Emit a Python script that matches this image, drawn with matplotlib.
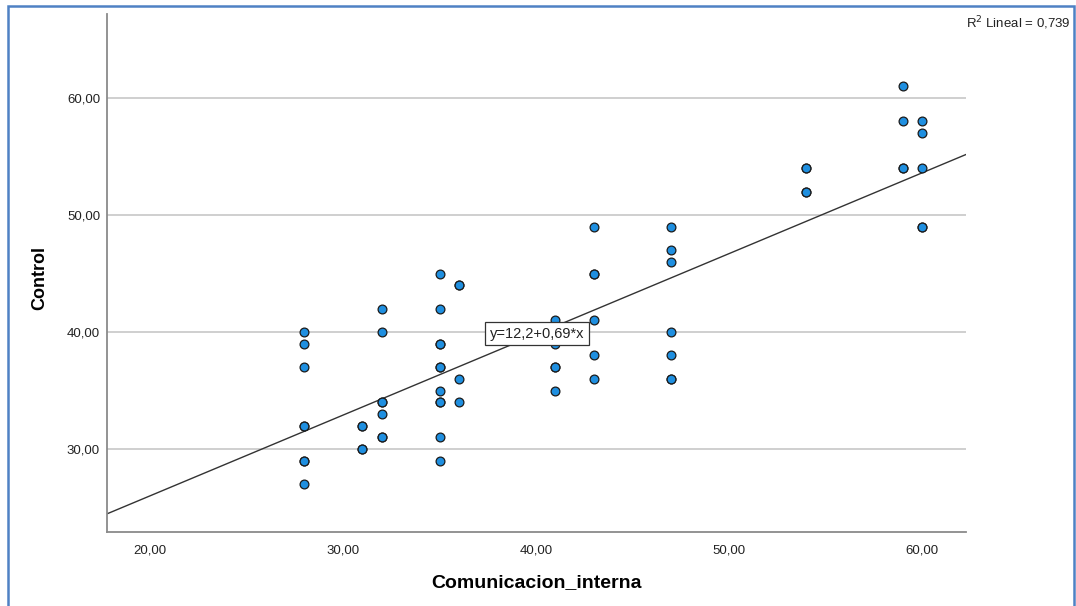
import matplotlib
matplotlib.use("Agg")
import matplotlib.pyplot as plt
import matplotlib.patches as mpatches
import numpy as np

plt.rcParams['font.family'] = ['Liberation Sans', 'DejaVu Sans']

# Data (x = Comunicacion_interna, y = Control)
comunicacion_interna = [28, 28, 28, 28, 28, 28, 28, 28,
                        31, 31, 31, 31,
                        32, 32, 32, 32, 32, 32, 32,
                        35, 35, 35, 35, 35, 35, 35, 35, 35, 35, 35,
                        36, 36, 36, 36,
                        41, 41, 41, 41, 41,
                        43, 43, 43, 43, 43, 43,
                        47, 47, 47, 47, 47, 47, 47,
                        54, 54, 54, 54,
                        59, 59, 59, 59,
                        60, 60, 60, 60, 60]
control = [40, 39, 37, 32, 32, 29, 29, 27,
           32, 32, 30, 30,
           42, 40, 34, 34, 33, 31, 31,
           45, 42, 39, 39, 37, 37, 35, 34, 34, 31, 29,
           44, 44, 36, 34,
           41, 39, 37, 37, 35,
           49, 45, 45, 41, 38, 36,
           49, 47, 46, 40, 38, 36, 36,
           54, 54, 52, 52,
           61, 58, 54, 54,
           58, 57, 54, 49, 49]

fit_intercept = 12.2
fit_slope = 0.69
r2_text = "R$^2$ Lineal = 0,739"
eq_text = "y=12,2+0,69*x"

x_ticks = [20, 30, 40, 50, 60]
y_ticks = [30, 40, 50, 60]

W, H = 1076, 606
fig = plt.figure(figsize=(W / 100, H / 100), dpi=100)
ax = fig.add_axes([107 / W, 1 - 532 / H, (966 - 107) / W, (532 - 14) / H])

xlim = (17.77, 62.28)
ylim = (22.91, 67.18)
ax.set_xlim(*xlim)
ax.set_ylim(*ylim)

# gridlines
for yv in y_ticks:
    ax.axhline(yv, color='#cfcfcf', lw=1.4, zorder=1)

# regression line
xs = np.array(xlim)
ax.plot(xs, fit_intercept + fit_slope * xs, color='#333333', lw=1.0, zorder=2)

# points
ax.scatter(comunicacion_interna, control, s=40, facecolor='#1f8fe0',
           edgecolor='#1a1a1a', linewidth=0.9, zorder=3)

# equation label
ax.text(40.05, 39.85, eq_text, fontsize=10.5, ha='center', va='center',
        color='#222222', zorder=5,
        bbox=dict(boxstyle='square,pad=0.32', facecolor='white',
                  edgecolor='#333333', linewidth=0.9))

ax.set_xticks(x_ticks)
ax.set_xticklabels([f"{v:.2f}".replace('.', ',') for v in x_ticks])
ax.set_yticks(y_ticks)
ax.set_yticklabels([f"{v:.2f}".replace('.', ',') for v in y_ticks])
ax.tick_params(axis='both', length=0, labelsize=9.5, labelcolor='#222222')
ax.tick_params(axis='x', pad=9)
ax.tick_params(axis='y', pad=5)

for s in ['top', 'right']:
    ax.spines[s].set_visible(False)
for s in ['left', 'bottom']:
    ax.spines[s].set_color('#8a8a8a')
    ax.spines[s].set_linewidth(1.3)

ax.set_xlabel("Comunicacion_interna", fontsize=14, fontweight='bold')
ax.xaxis.set_label_coords(0.5, (532 - 583) / (532 - 14))
ax.xaxis.label.set_va('center')
ax.set_ylabel("Control", fontsize=13, fontweight='bold')
ax.yaxis.set_label_coords((40 - 107) / (966 - 107), (532 - 278) / (532 - 14))
ax.yaxis.label.set_va('center')

fig.text(1071 / W, 1 - 23 / H, r2_text, fontsize=9.5, ha='right', va='center',
         color='#222222')

# blue frame around the figure
rect = mpatches.Rectangle((7.5 / W, -0.05), (1073.5 - 7.5) / W, 1.05 - 6.5 / H,
                          transform=fig.transFigure, fill=False,
                          edgecolor='#4f81c4', linewidth=1.8, clip_on=False)
fig.patches.append(rect)

fig.savefig("out.png", dpi=100)
